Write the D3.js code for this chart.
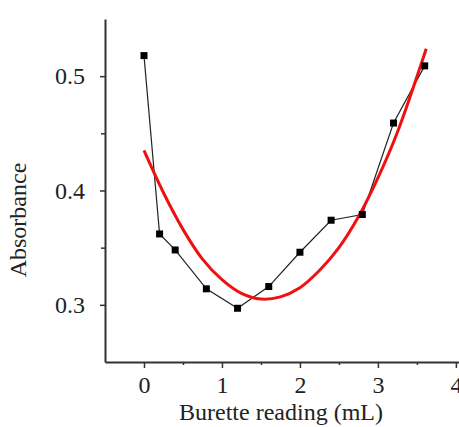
<!DOCTYPE html>
<html lang="en">
<head>
<meta charset="UTF-8">
<script src="https://d3js.org/d3.v7.min.js"></script>
<style>
  body { margin: 0; background: #fff; }
  text { font-family: "Liberation Serif", "Times New Roman", serif; }
</style>
</head>
<body>
<svg id="chart" width="459" height="427"></svg>
<script>
// measured points (black squares)
const burette = [0, 0.2, 0.4, 0.8, 1.2, 1.6, 2.0, 2.4, 2.8, 3.2, 3.6];
const absorb = [0.518, 0.362, 0.348, 0.314, 0.297, 0.316, 0.346, 0.374, 0.379, 0.459, 0.509];
// red fitted curve
const fitX = [0, 0.25, 0.5, 0.75, 1.0, 1.25, 1.5, 1.75, 2.0, 2.25, 2.5, 2.75, 3.0, 3.25, 3.62];
const fitY = [0.435, 0.398, 0.366, 0.340, 0.322, 0.310, 0.305, 0.307, 0.315, 0.330, 0.350, 0.377, 0.411, 0.451, 0.524];
const xTicks = [0, 1, 2, 3, 4];
const yTicks = [0.3, 0.4, 0.5];

const svg = d3.select("svg#chart");
const margin = {top: 19, left: 105, right: 0, bottom: 65};
const w = 459 - margin.left - margin.right;
const h = 427 - margin.top - margin.bottom;

const x = d3.scaleLinear().domain([-0.5, 4.04]).range([0, w]);
const y = d3.scaleLinear().domain([0.25, 0.55]).range([h, 0]);

const g = svg.append("g").attr("transform", "translate(" + margin.left + "," + margin.top + ")");

// minor ticks
g.append("g").attr("transform", "translate(0," + h + ")")
  .call(d3.axisBottom(x).tickValues([0.5, 1.5, 2.5, 3.5]).tickSize(3).tickFormat(""))
  .call(a => a.select(".domain").remove());
g.append("g")
  .call(d3.axisLeft(y).tickValues([0.35, 0.45]).tickSize(4).tickFormat(""))
  .call(a => a.select(".domain").remove());

const xAxis = g.append("g").attr("transform", "translate(0," + h + ")")
  .call(d3.axisBottom(x).tickValues(xTicks).tickSize(6).tickSizeOuter(0).tickPadding(8).tickFormat(d3.format("d")));
const yAxis = g.append("g")
  .call(d3.axisLeft(y).tickValues(yTicks).tickSize(5).tickSizeOuter(0).tickPadding(15).tickFormat(d3.format(".1f")));

[xAxis, yAxis].forEach(a => {
  a.selectAll("text").attr("font-size", 24).attr("fill", "#222");
  a.select(".domain").attr("stroke", "#333").attr("stroke-width", 2);
});
g.selectAll(".tick line").attr("stroke", "#333").attr("stroke-width", 1.5);

// black data line
const pts = burette.map((v, i) => [v, absorb[i]]);
g.append("path").datum(pts)
  .attr("fill", "none").attr("stroke", "#222").attr("stroke-width", 1.2)
  .attr("d", d3.line().x(d => x(d[0])).y(d => y(d[1])));

// red fit
const fit = fitX.map((v, i) => [v, fitY[i]]);
g.append("path").datum(fit)
  .attr("fill", "none").attr("stroke", "#f01010").attr("stroke-width", 3)
  .attr("d", d3.line().x(d => x(d[0])).y(d => y(d[1])).curve(d3.curveCatmullRom));

g.selectAll("rect.pt").data(pts).enter().append("rect")
  .attr("class", "pt")
  .attr("x", d => x(d[0]) - 3.5).attr("y", d => y(d[1]) - 3.5)
  .attr("width", 7).attr("height", 7).attr("fill", "#000");

svg.append("text").attr("x", 281).attr("y", 420)
  .attr("text-anchor", "middle").attr("font-size", 24).attr("fill", "#222")
  .text("Burette reading (mL)");
svg.append("text").attr("transform", "translate(26,220) rotate(-90)")
  .attr("text-anchor", "middle").attr("font-size", 24).attr("fill", "#222")
  .text("Absorbance");
</script>
</body>
</html>
